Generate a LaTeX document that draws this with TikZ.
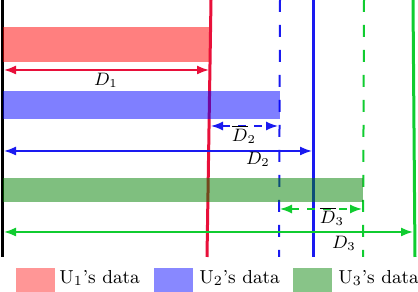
\documentclass[tikz,border=0pt]{standalone}
\usetikzlibrary{arrows.meta}
\definecolor{rline}{RGB}{232,16,58}
\definecolor{bline}{RGB}{26,26,240}
\definecolor{gline}{RGB}{16,204,48}
\definecolor{rbar}{RGB}{255,150,150}
\definecolor{bbar}{RGB}{136,136,255}
\definecolor{gbar}{RGB}{136,196,136}
\tikzset{
  solidv/.style={line width=1.5pt},
  dashv/.style={line width=1pt, dash pattern=on 6pt off 6.5pt},
  dimarrow/.style={line width=0.8pt, {Latex[length=6pt,width=4.5pt]}-{Latex[length=6pt,width=4.5pt]}},
  dimdash/.style={line width=0.7pt, dash pattern=on 4pt off 4pt, {Latex[length=6pt,width=4.5pt]}-{Latex[length=6pt,width=4.5pt]}},
  lbl/.style={inner sep=0pt, font=\small},
  databar/.style={fill opacity=0.5, draw=none},
  legbox/.style={minimum width=19.5pt, minimum height=12pt, inner sep=0pt},
  legtext/.style={anchor=west, inner sep=0pt, font=\fontsize{9.4}{11}\selectfont}
}
\begin{document}
\begin{tikzpicture}[x=0.5pt,y=-0.5pt]
\useasboundingbox (0,0) rectangle (418,292);
% vertical lines
\draw[solidv, black] (2,0) -- (2,257);
\draw[solidv, rline] (211,0) -- (207,257);
\draw[solidv, bline] (313,0) -- (313,257);
\draw[solidv, gline] (413,0) -- (415,257);
\draw[dashv, bline] (280,0) -- (279,257);
\draw[dashv, gline] (364,0) -- (363,257);
% data bars
\fill[databar, red] (3,27) rectangle (209,62);
\fill[databar, blue] (3,91) rectangle (280,119);
\fill[databar, green!50!black] (3,178) rectangle (363,202);
% coordinates
\coordinate (r1a) at (4,70); \coordinate (r1b) at (209,70);
\coordinate (b2a) at (211,126); \coordinate (b2b) at (278,126);
\coordinate (b1a) at (4,151); \coordinate (b1b) at (312,151);
\coordinate (g2a) at (280,209); \coordinate (g2b) at (362,209);
\coordinate (g1a) at (4,232); \coordinate (g1b) at (413,232);
% arrows
\draw[dimarrow, rline] (r1a) -- (r1b);
\draw[dimdash, bline] (b2a) -- (b2b);
\draw[dimarrow, bline] (b1a) -- (b1b);
\draw[dimdash, gline] (g2a) -- (g2b);
\draw[dimarrow, gline] (g1a) -- (g1b);
% labels
\node[lbl] (l1) at (106,80) {$D_1$};
\node[lbl] (l2b) at (244,134) {$\overline{D}_2$};
\node[lbl] (l2) at (258,159) {$D_2$};
\node[lbl] (l3b) at (332,216) {$\overline{D}_3$};
\node[lbl] (l3) at (344,243) {$D_3$};
% legend
\node[legbox, fill=rbar] (k1) at (35.5,280) {};
\node[legtext] (t1) at (59,278) {U$_1$'s data};
\node[legbox, fill=bbar] (k2) at (173,280) {};
\node[legtext] (t2) at (199,278) {U$_2$'s data};
\node[legbox, fill=gbar] (k3) at (312,280) {};
\node[legtext] (t3) at (338,278) {U$_3$'s data};
\end{tikzpicture}
\end{document}
